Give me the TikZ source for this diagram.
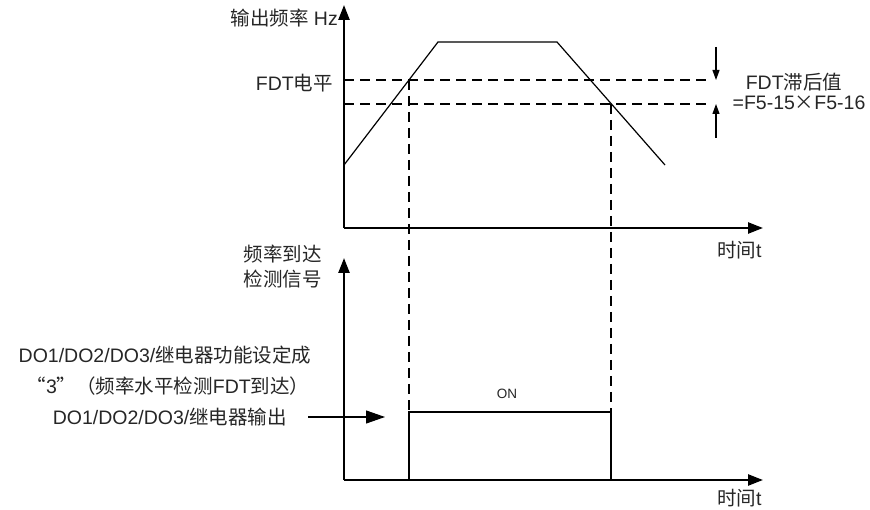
\documentclass[tikz,border=0pt]{standalone}
\usepackage{fontspec}
\setmainfont{Liberation Sans}
\newfontfamily\cjkf{Noto Sans CJK SC}
\newcommand\zh[1]{{\cjkf #1}}
\usetikzlibrary{arrows.meta}
\tikzset{
  axisline/.style={line width=2.4pt, -{Triangle[length=15pt,width=11pt]}},
  curveline/.style={line width=1.2pt},
  dline/.style={line width=1.1pt, dash pattern=on 10pt off 6pt},
  smallarrow/.style={line width=1.1pt, -{Triangle[length=10pt,width=7pt]}},
  thinarrow/.style={line width=1.1pt, -{Triangle[length=19pt,width=13pt]}},
  pulse/.style={line width=2.4pt},
  lbl/.style={font=\fontsize{19.5}{23}\selectfont, text=black!85, inner sep=0pt},
  smalllbl/.style={font=\fontsize{13.5}{16}\selectfont, text=black!85, inner sep=0pt},
}
\begin{document}
\begin{tikzpicture}[x=1pt,y=-1pt]
\useasboundingbox (0,0) rectangle (870,510);
% coordinates
\coordinate (O1) at (344,228);
\coordinate (Y1) at (344,5);
\coordinate (X1) at (763,228);
\coordinate (O2) at (344,480);
\coordinate (Y2) at (344,258);
\coordinate (X2) at (763,480);
\coordinate (c0) at (344,165);
\coordinate (c1) at (438,42);
\coordinate (c2) at (557,42);
\coordinate (c3) at (665,165);
\coordinate (a1) at (409,80);
\coordinate (a2) at (611,104);
\coordinate (h1s) at (344,80);
\coordinate (h1e) at (712,80);
\coordinate (h2s) at (344,104);
\coordinate (h2e) at (712,104);
\coordinate (b1) at (409,480);
\coordinate (b2) at (611,480);
\coordinate (r1) at (409,412);
\coordinate (r2) at (611,412);
\coordinate (d1s) at (716,47);
\coordinate (d1e) at (716,80);
\coordinate (d2s) at (716,138);
\coordinate (d2e) at (716,104);
\coordinate (ars) at (308,417);
\coordinate (are) at (385,417);

% dashed lines
\draw[dline] (h1s) -- (h1e);
\draw[dline] (h2s) -- (h2e);
\draw[dline] (a1) -- (b1);
\draw[dline] (a2) -- (b2);

% curve
\draw[curveline] (c0) -- (c1) -- (c2) -- (c3);

% axes
\draw[axisline] (O1) -- (Y1);
\draw[axisline] (O1) -- (X1);
\draw[axisline] (O2) -- (Y2);
\draw[axisline] (O2) -- (X2);

% pulse
\draw[pulse] (b1) -- (r1) -- (r2) -- (b2);

% hysteresis arrows
\draw[smallarrow] (d1s) -- (d1e);
\draw[smallarrow] (d2s) -- (d2e);

% output arrow
\draw[thinarrow] (ars) -- (are);

% labels
\node[lbl, anchor=east] (ylab1) at (338,18) {\zh{输出频率} Hz};
\node[lbl, anchor=east] (fdt) at (333,83) {FDT\zh{电平}};
\node[lbl] (hyst1) at (794,82) {FDT\zh{滞后值}};
\node[lbl] (hyst2) at (799,103) {=F5-15\zh{×}F5-16};
\node[lbl, anchor=west] (t1) at (717,250) {\zh{时间}t};
\node[lbl, anchor=west] (t2) at (717,498) {\zh{时间}t};
\node[lbl, anchor=east, align=left] (ylab2) at (322,267) {\zh{频率到达}\\[2pt]\zh{检测信号}};
\node[lbl] (do1) at (165,355) {DO1/DO2/DO3/\zh{继电器功能设定成}};
\node[lbl] (do2) at (168,386) {\zh{“}3\zh{”（频率水平检测}FDT\zh{到达）}};
\node[lbl, anchor=east] (do3) at (287,417) {DO1/DO2/DO3/\zh{继电器输出}};
\node[smalllbl] (on) at (507,394) {ON};
\end{tikzpicture}
\end{document}
